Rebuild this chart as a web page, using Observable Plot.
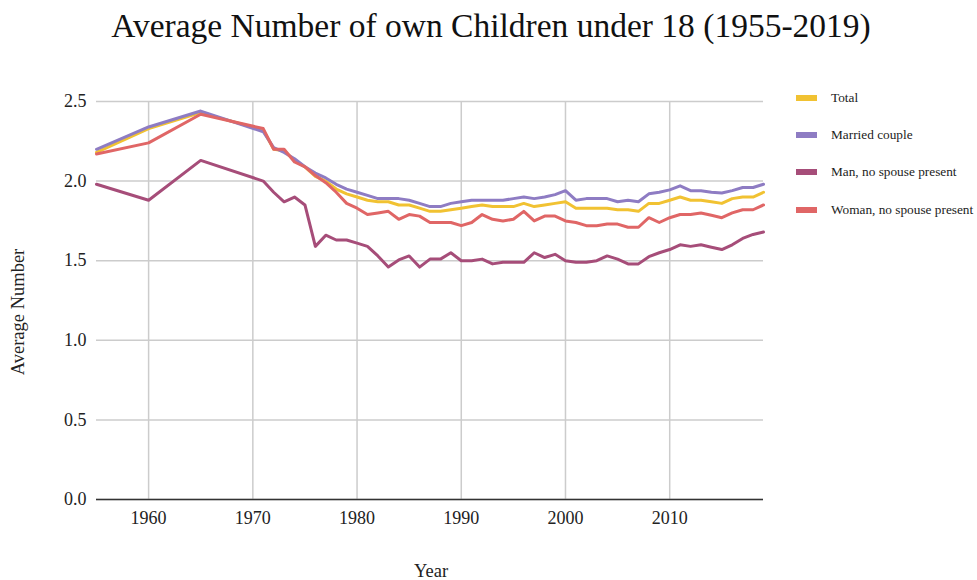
<!DOCTYPE html>
<html>
<head>
<meta charset="utf-8">
<script src="https://cdn.jsdelivr.net/npm/d3@7"></script>
<script src="https://cdn.jsdelivr.net/npm/@observablehq/plot@0.6"></script>
<style>
  html, body { margin: 0; padding: 0; background: #fff; }
  #wrap { position: relative; width: 977px; height: 580px; font-family: "Liberation Serif", serif; color: #222; }
  #chart { position: absolute; left: 0; top: 0; }
  .title { position: absolute; left: 0; width: 982px; top: 7px; text-align: center; font-size: 33.5px; color: #111; white-space: nowrap; }
  .ylab { position: absolute; left: 18px; top: 312px; transform: translate(-50%, -50%) rotate(-90deg); font-size: 18.5px; white-space: nowrap; }
  .xlab { position: absolute; left: 431px; top: 571px; transform: translate(-50%, -50%); font-size: 18.5px; }
  .legend { position: absolute; left: 796px; top: 0; }
  .item { position: absolute; left: 0; white-space: nowrap; font-size: 13.3px; }
  .sw { position: absolute; left: 0; width: 21px; height: 6px; }
  .lt { position: absolute; left: 35px; transform: translateY(-50%); }
</style>
</head>
<body>
<div id="wrap">
  <div id="chart"></div>
  <div class="title">Average Number of own Children under 18 (1955-2019)</div>
  <div class="ylab">Average Number</div>
  <div class="xlab">Year</div>
  <div class="legend" id="legend"></div>
</div>
<script>
const years = [1955, 1960, 1965,
  1971, 1972, 1973, 1974, 1975, 1976, 1977, 1978, 1979, 1980,
  1981, 1982, 1983, 1984, 1985, 1986, 1987, 1988, 1989, 1990,
  1991, 1992, 1993, 1994, 1995, 1996, 1997, 1998, 1999, 2000,
  2001, 2002, 2003, 2004, 2005, 2006, 2007, 2008, 2009, 2010,
  2011, 2012, 2013, 2014, 2015, 2016, 2017, 2018, 2019];

const total = [2.18, 2.33, 2.43,
  2.32, 2.20, 2.19, 2.13, 2.09, 2.03, 2.00, 1.95, 1.92, 1.90,
  1.88, 1.87, 1.87, 1.85, 1.85, 1.83, 1.81, 1.81, 1.82, 1.83,
  1.84, 1.85, 1.84, 1.84, 1.84, 1.86, 1.84, 1.85, 1.86, 1.87,
  1.83, 1.83, 1.83, 1.83, 1.82, 1.82, 1.81, 1.86, 1.86, 1.88,
  1.90, 1.88, 1.88, 1.87, 1.86, 1.89, 1.90, 1.90, 1.93];

const married = [2.20, 2.34, 2.44,
  2.31, 2.21, 2.18, 2.14, 2.09, 2.05, 2.02, 1.98, 1.95, 1.93,
  1.91, 1.89, 1.89, 1.89, 1.88, 1.86, 1.84, 1.84, 1.86, 1.87,
  1.88, 1.88, 1.88, 1.88, 1.89, 1.90, 1.89, 1.90, 1.915, 1.94,
  1.88, 1.89, 1.89, 1.89, 1.87, 1.88, 1.87, 1.92, 1.93, 1.945,
  1.97, 1.94, 1.94, 1.93, 1.925, 1.94, 1.96, 1.96, 1.98];

const manNoSpouse = [1.98, 1.88, 2.13,
  2.00, 1.93, 1.87, 1.90, 1.85, 1.59, 1.66, 1.63, 1.63, 1.61,
  1.59, 1.53, 1.46, 1.505, 1.53, 1.46, 1.51, 1.51, 1.55, 1.50,
  1.50, 1.51, 1.48, 1.49, 1.49, 1.49, 1.55, 1.52, 1.54, 1.50,
  1.49, 1.49, 1.50, 1.53, 1.51, 1.48, 1.48, 1.525, 1.55, 1.57,
  1.60, 1.59, 1.60, 1.585, 1.57, 1.60, 1.64, 1.665, 1.68];

const womanNoSpouse = [2.17, 2.24, 2.42,
  2.33, 2.20, 2.20, 2.12, 2.09, 2.035, 1.99, 1.93, 1.86, 1.83,
  1.79, 1.80, 1.81, 1.76, 1.79, 1.78, 1.74, 1.74, 1.74, 1.72,
  1.74, 1.79, 1.76, 1.75, 1.76, 1.81, 1.75, 1.78, 1.78, 1.75,
  1.74, 1.72, 1.72, 1.73, 1.73, 1.71, 1.71, 1.77, 1.74, 1.77,
  1.79, 1.79, 1.80, 1.785, 1.77, 1.80, 1.82, 1.82, 1.85];

const seriesNames = ["Total", "Married couple", "Man, no spouse present", "Woman, no spouse present"];
const seriesColors = ["#f1c232", "#8e7cc3", "#a64d79", "#e06666"];
const xTicks = [1960, 1970, 1980, 1990, 2000, 2010];
const yTicks = [0, 0.5, 1.0, 1.5, 2.0, 2.5];

const seriesValues = [total, married, manNoSpouse, womanNoSpouse];
const rows = [];
seriesValues.forEach((vals, si) => {
  vals.forEach((v, i) => rows.push({year: years[i], value: v, series: seriesNames[si]}));
});

const chart = Plot.plot({
  width: 977,
  height: 580,
  marginLeft: 96,
  marginRight: 214,
  marginTop: 101,
  marginBottom: 81,
  style: {fontFamily: "Liberation Serif, serif", fontSize: "18px", color: "#222", background: "transparent"},
  x: {domain: [1955, 2019]},
  y: {domain: [0, 2.5]},
  color: {domain: seriesNames, range: seriesColors},
  marks: [
    Plot.gridY(yTicks, {stroke: "#cccccc", strokeOpacity: 1, strokeWidth: 1.5}),
    Plot.gridX(xTicks, {stroke: "#cccccc", strokeOpacity: 1, strokeWidth: 1.5}),
    Plot.axisY(yTicks, {tickSize: 0, tickPadding: 10, tickFormat: d3.format(".1f"), label: null}),
    Plot.axisX(xTicks, {tickSize: 0, tickPadding: 12, tickFormat: "d", label: null}),
    Plot.ruleY([0], {stroke: "#333", strokeWidth: 1.5}),
    Plot.line(rows, {x: "year", y: "value", z: "series", stroke: "series", strokeWidth: 3})
  ]
});
document.getElementById("chart").appendChild(chart);

const legend = document.getElementById("legend");
const legendY = [98, 135, 172, 210];
seriesNames.forEach((name, i) => {
  const item = document.createElement("div");
  item.className = "item";
  item.style.top = legendY[i] + "px";
  const sw = document.createElement("div");
  sw.className = "sw";
  sw.style.background = seriesColors[i];
  sw.style.top = "-3px";
  const lt = document.createElement("div");
  lt.className = "lt";
  lt.textContent = name;
  item.appendChild(sw);
  item.appendChild(lt);
  legend.appendChild(item);
});
</script>
</body>
</html>
